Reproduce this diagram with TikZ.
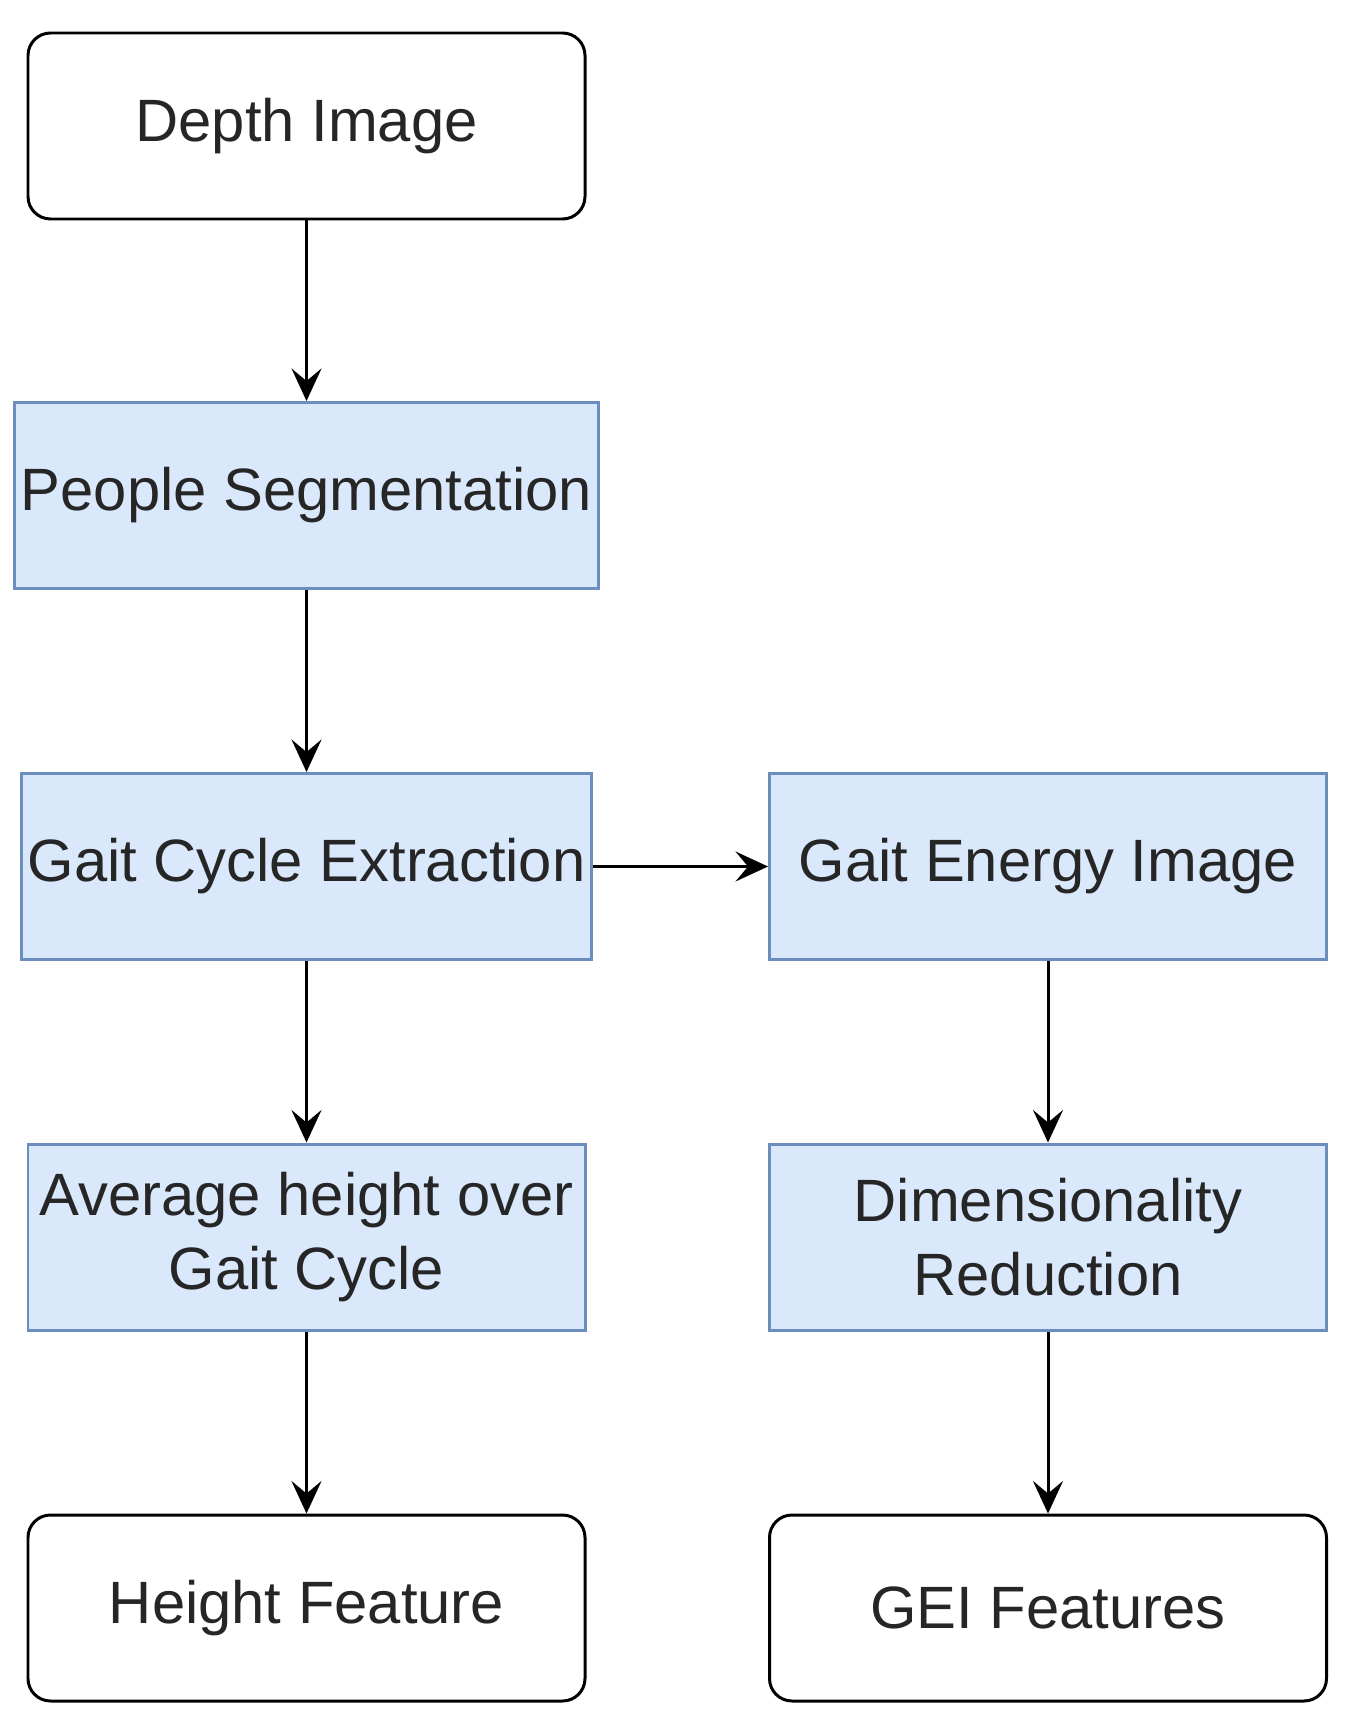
\documentclass[tikz,border=0pt]{standalone}
\usepackage{fontspec}
\setmainfont{Liberation Sans}
\usetikzlibrary{arrows.meta}
\definecolor{boxfill}{HTML}{DAE8FC}
\definecolor{boxline}{HTML}{6C8EBF}
\tikzset{
  base/.style={minimum width=11.14cm, minimum height=3.72cm, align=center, line width=1.7pt,
    font=\fontsize{34}{42}\selectfont, text=black!85},
  term/.style={base, draw=black, rounded corners=0.45cm},
  stage/.style={base, draw=boxline, fill=boxfill},
  flow/.style={line width=1.7pt, -{Stealth[length=0.65cm, width=0.6cm, inset=0.25cm]}}
}
\begin{document}
\begin{tikzpicture}
  \useasboundingbox (0,0) rectangle (27.1,-34.5);
  \node[term] (a) at (6.13,-2.52)  {Depth Image};
  \node[stage] (b) at (6.13,-9.91)  {People Segmentation};
  \node[stage] (c) at (6.13,-17.33) {Gait Cycle Extraction};
  \node[stage] (d) at (20.96,-17.33) {Gait Energy Image};
  \node[stage] (e) at (6.13,-24.74) {Average height over\\Gait Cycle};
  \node[stage] (f) at (20.96,-24.74) {Dimensionality\\Reduction};
  \node[term] (g) at (6.13,-32.16) {Height Feature};
  \node[term] (h) at (20.96,-32.16) {GEI Features};
  \draw[flow] (a) -- (b);
  \draw[flow] (b) -- (c);
  \draw[flow] (c) -- (d);
  \draw[flow] (c) -- (e);
  \draw[flow] (d) -- (f);
  \draw[flow] (e) -- (g);
  \draw[flow] (f) -- (h);
\end{tikzpicture}
\end{document}
